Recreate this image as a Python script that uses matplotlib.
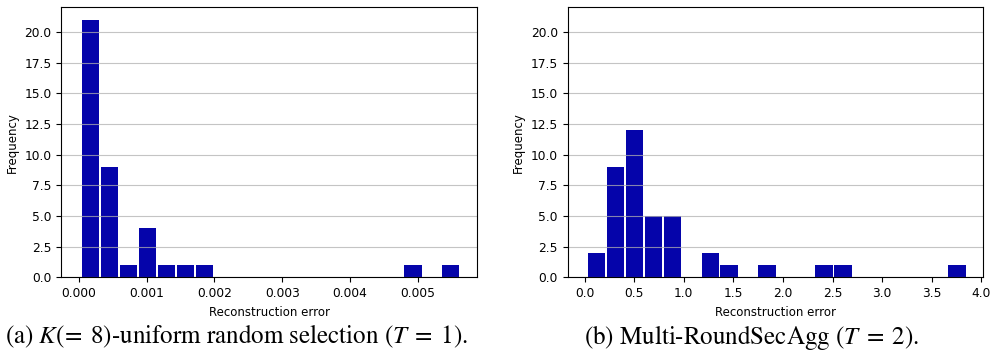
import matplotlib
matplotlib.use("Agg")
import matplotlib.pyplot as plt
import numpy as np

plt.rcParams['mathtext.fontset'] = 'stix'

############################################### Histogram data

# (a) K(=8)-uniform random selection, 20 bins
left_lo, left_hi = 0.00003, 0.00563
left_counts = [21, 9, 1, 4, 1, 1, 1, 0, 0, 0, 0, 0, 0, 0, 0, 0, 0, 1, 0, 1]
left_xticks = [0.000, 0.001, 0.002, 0.003, 0.004, 0.005]

# (b) Multi-RoundSecAgg, 20 bins
right_lo, right_hi = 0.02, 3.85
right_counts = [2, 9, 12, 5, 5, 0, 2, 1, 0, 1, 0, 0, 1, 1, 0, 0, 0, 0, 0, 1]
right_xticks = [0.0, 0.5, 1.0, 1.5, 2.0, 2.5, 3.0, 3.5, 4.0]

yticks = [0.0, 2.5, 5.0, 7.5, 10.0, 12.5, 15.0, 17.5, 20.0]

captions = [r'(a) $K(\!=\;8)$-uniform random selection ($T\;=\;1$).',
            r'(b) Multi-RoundSecAgg ($T\;=\;2$).']

############################################### Plotting

fig = plt.figure(figsize=(9.92, 3.6), dpi=100)
ax1 = fig.add_axes([0.0618, 0.2297, 0.4194, 0.7508])
ax2 = fig.add_axes([0.5723, 0.2297, 0.4190, 0.7508])


def draw_hist(ax, lo, hi, counts, xticks, xfmt):
    edges = np.linspace(lo, hi, len(counts) + 1)
    centers = (edges[:-1] + edges[1:]) / 2
    ax.hist(centers, bins=edges, weights=counts, color='#0504aa', rwidth=0.9)
    ax.grid(axis='y', alpha=0.75)
    ax.set_ylim(0, 22.05)
    ax.set_yticks(yticks)
    ax.set_yticklabels(['%.1f' % t for t in yticks], fontsize=8.8)
    ax.set_xticks(xticks)
    ax.set_xticklabels([xfmt % t for t in xticks], fontsize=8.8)
    ax.set_xlabel('Reconstruction error', fontsize=8.5)
    ax.set_ylabel('Frequency', fontsize=8.5)


draw_hist(ax1, left_lo, left_hi, left_counts, left_xticks, '%.3f')
ax1.set_xlim(-0.00026, 0.00588)
draw_hist(ax2, right_lo, right_hi, right_counts, right_xticks, '%.1f')
ax2.set_xlim(-0.17, 4.02)

fig.text(0.005, 0.045, captions[0], fontsize=18, family='STIXGeneral')
fig.text(0.589, 0.045, captions[1], fontsize=18, family='STIXGeneral')

fig.savefig('out.png', dpi=100)
